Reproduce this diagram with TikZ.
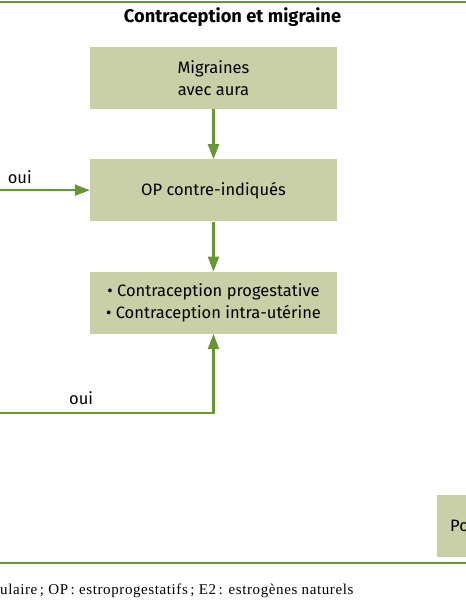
\documentclass[tikz,border=0pt]{standalone}
\usepackage{fontspec}
\setmainfont{Fira Sans}
\newfontfamily\notefont[LetterSpace=4]{Liberation Serif}
\usetikzlibrary{arrows.meta, positioning}

\definecolor{boxfill}{RGB}{201,207,167}
\definecolor{ogreen}{RGB}{104,149,56}

\begin{document}
\begin{tikzpicture}[
  x=1pt, y=-1pt,
  font=\fontsize{16.5}{22}\selectfont,
  >={Triangle[length=15pt, width=11pt]},
  node distance=50pt and 100pt,
  box/.style={fill=boxfill, align=center, minimum height=62pt, minimum width=247pt, inner sep=0pt},
  arrow/.style={->, line width=2.2pt, draw=ogreen},
  rule/.style={line width=2.2pt, draw=ogreen}
]
\useasboundingbox[fill=white] (0,0) rectangle (466,600);
\clip (0,0) rectangle (466,600);

% rules
\coordinate (topL) at (0,2);
\coordinate (topR) at (466,2);
\coordinate (botL) at (0,563);
\coordinate (botR) at (466,563);
\draw[rule] (topL) -- (topR);
\draw[rule] (botL) -- (botR);

\node[anchor=base, inner sep=0pt, font=\bfseries\fontsize{18.3}{22}\selectfont] (title) at (232.5,22) {Contraception et migraine};

\node[box] (aura) at (213.5,78) {Migraines\\avec aura};
\node[box, below=of aura] (opci) {OP contre-indiqués};
\node[box, below=of opci] (alt) {• Contraception progestative\\• Contraception intra-utérine};
\node[box, anchor=north west, minimum width=0pt, text width=100pt, inner xsep=13pt, align=left] (pour) at (437,495) {Po};

\coordinate (inOP) at (0,190);
\coordinate (inAlt) at (0,413);

\draw[arrow] (aura) -- (opci);
\draw[arrow] (opci) -- (alt);
\draw[arrow] (inOP) -- node[above=2pt, pos=0.22] {oui} (opci);
\draw[arrow] (inAlt) -| node[above=4pt, pos=0.19] {oui} (alt);

\node[anchor=base west, inner sep=0pt, font=\notefont\fontsize{15}{17}\selectfont] (note) at (0,594)
  {ulaire\,; OP\,: estroprogestatifs\,; E2\,: estrogènes naturels};
\end{tikzpicture}
\end{document}
